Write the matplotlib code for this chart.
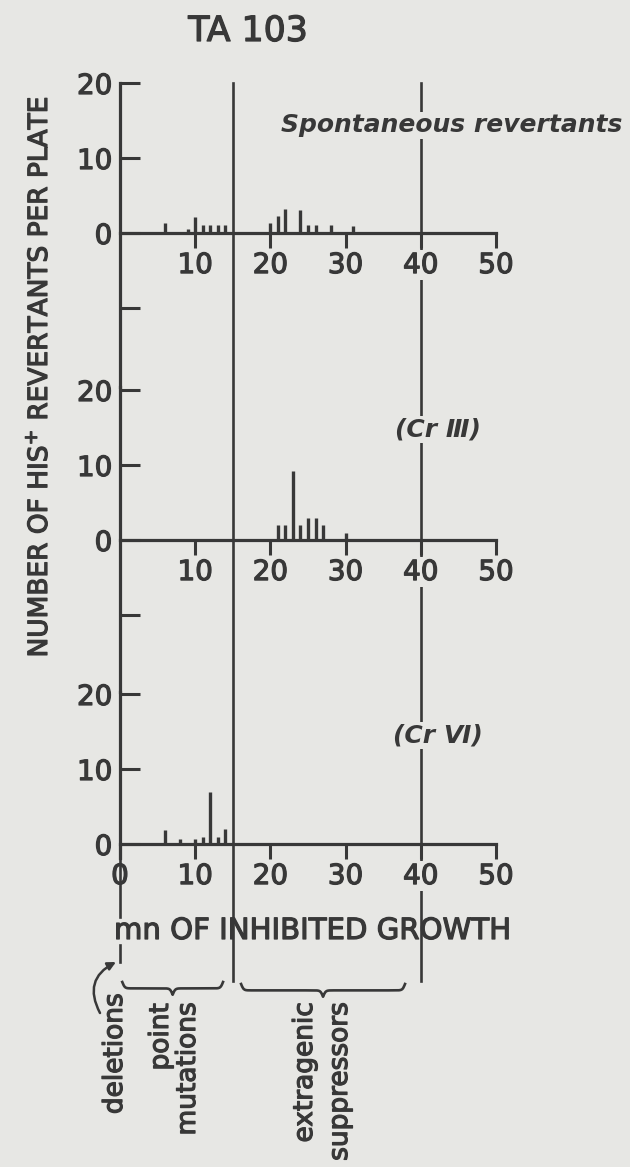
import numpy as np
import matplotlib.pyplot as plt
import matplotlib.patheffects as pe
from matplotlib.patches import FancyArrowPatch

# minutes of inhibited growth and his+ revertants per plate
spont_min = [6, 9, 10, 11, 12, 13, 14, 20, 21, 22, 24, 25, 26, 28, 31]
spont_rev = [1.3, 0.5, 2.1, 1.1, 1.1, 1.1, 1.1, 1.3, 2.3, 3.2, 3.1, 1.1, 1.1, 1.1, 1.0]

cr3_min = [21, 22, 23, 24, 25, 26, 27, 30]
cr3_rev = [2.0, 2.0, 9.2, 2.0, 3.0, 3.0, 2.0, 1.0]

cr6_min = [6, 8, 10, 11, 12, 13, 14]
cr6_rev = [1.9, 0.7, 0.7, 1.0, 7.0, 1.0, 2.0]

x_ticks = [0, 10, 20, 30, 40, 50]
boundaries = [15, 40]

W, H = 630, 1167
BG = '#e7e7e4'
INK = '#383838'
PX = 7.5  # pixels per unit on y
HEAVY = [pe.withStroke(linewidth=0.9, foreground=INK)]

plt.rcParams['font.family'] = ['DejaVu Sans']
fig = plt.figure(figsize=(W / 100, H / 100), dpi=100, facecolor=BG)


def panel(top_px, zero_px, bottom_px):
    ax = fig.add_axes([120 / W, 1 - bottom_px / H, 376 / W, (bottom_px - top_px) / H])
    ax.set_xlim(0, 50)
    ax.set_ylim((zero_px - bottom_px) / PX, (zero_px - top_px) / PX)
    ax.set_facecolor('none')
    for s in ['top', 'right']:
        ax.spines[s].set_visible(False)
    ax.spines['bottom'].set_position(('data', 0))
    for s in ['left', 'bottom']:
        ax.spines[s].set_color(INK)
        ax.spines[s].set_linewidth(2.3)
    ax.tick_params(axis='y', direction='in', length=14.4, width=2.2, pad=5.5,
                   labelsize=20, colors=INK)
    ax.tick_params(axis='x', direction='out', length=11, width=2.2, pad=2,
                   labelsize=20, colors=INK)
    return ax


ax1 = panel(82.6, 233, 386.75)
ax2 = panel(386.75, 540, 692.25)
ax3 = panel(692.25, 844, 858.25)

ax1.set_yticks([20, 10, 0, -10], ['20', '10', '0', ''])
ax2.set_yticks([20, 10, 0, -10], ['20', '10', '0', ''])
ax3.set_yticks([20, 10, 0], ['20', '10', '0'])
ax1.set_xticks(x_ticks[1:])
ax2.set_xticks(x_ticks[1:])
ax3.set_xticks(x_ticks)

for ax in [ax1, ax2, ax3]:
    for lab in ax.get_xticklabels():
        lab.set_bbox(dict(facecolor=BG, edgecolor='none', pad=0.5))
    for lab in ax.get_xticklabels() + ax.get_yticklabels():
        lab.set_path_effects(HEAVY)

ax1.vlines(spont_min, 0, spont_rev, colors=INK, lw=2.4)
ax2.vlines(cr3_min, 0, cr3_rev, colors=INK, lw=2.4)
ax3.vlines(cr6_min, 0, cr6_rev, colors=INK, lw=2.4)

# boundary lines running through all three panels
for b in boundaries:
    ax1.plot([b, b], [20.05, (233 - 981) / PX], color=INK, lw=1.9, clip_on=False, zorder=1)

box = dict(facecolor=BG, edgecolor='none', pad=1)
ax1.text(44.1, 14.4, 'Spontaneous revertants', ha='center', va='center', size=18,
         style='italic', weight='bold', color=INK, bbox=box)
ax2.text(42.3, 14.7, '(Cr \u2162)', ha='center', va='center', size=18,
         style='italic', weight='bold', color=INK, bbox=box)
ax3.text(42.3, 14.5, '(Cr \u2165)', ha='center', va='center', size=18,
         style='italic', weight='bold', color=INK, bbox=box)

ax3.text(-0.8, (844 - 931) / PX, 'mn OF INHIBITED GROWTH', ha='left', va='center',
         size=21, color=INK, clip_on=False, path_effects=HEAVY)

# line from zero down to the deletions arrow
ax3.plot([0, 0], [-1.9, (844 - 917) / PX], color=INK, lw=1.9, clip_on=False)
ax3.plot([0, 0], [(844 - 945) / PX, (844 - 962) / PX], color=INK, lw=1.9, clip_on=False)


def brace(ax, x0, x1, y, h, beta=6.0):
    t = np.linspace(x0, x1, 301)
    mid = (x0 + x1) / 2
    left = t[:151]
    yh = 1 / (1 + np.exp(-beta * (left - x0))) + 1 / (1 + np.exp(-beta * (left - mid)))
    yy = np.concatenate([yh, yh[-2::-1]])
    ax.plot(t, y - h * (yy - 0.5), color=INK, lw=1.9, clip_on=False)


brace(ax3, 0.3, 13.7, (844 - 982) / PX, 1.7)
brace(ax3, 16.1, 37.9, (844 - 984) / PX, 1.7)

arrow = FancyArrowPatch(((100 - 120) / 7.52, (844 - 1013) / PX),
                        ((116 - 120) / 7.52, (844 - 962) / PX),
                        connectionstyle='arc3,rad=-0.5', arrowstyle='-|>',
                        mutation_scale=12, lw=1.8, color=INK,
                        shrinkA=0, shrinkB=0, clip_on=False)
ax3.add_patch(arrow)

for x, top, s in [(115, 993, 'deletions'), (161, 1003, 'point'),
                  (188, 1002, 'mutations'), (305, 1002, 'extragenic'),
                  (340, 1002, 'suppressors')]:
    fig.text(x / W, 1 - top / H, s, rotation=90, ha='center', va='top',
             size=19, color=INK, path_effects=HEAVY)

fig.text(248 / W, 1 - 31 / H, 'TA 103', ha='center', va='center', size=25, color=INK,
         path_effects=HEAVY)
fig.text(40 / W, 1 - 377 / H, 'NUMBER OF HIS$^{+}$ REVERTANTS PER PLATE',
         rotation=90, ha='center', va='center', size=19, color=INK, path_effects=HEAVY)

fig.savefig('out.png', dpi=100, facecolor=BG)
